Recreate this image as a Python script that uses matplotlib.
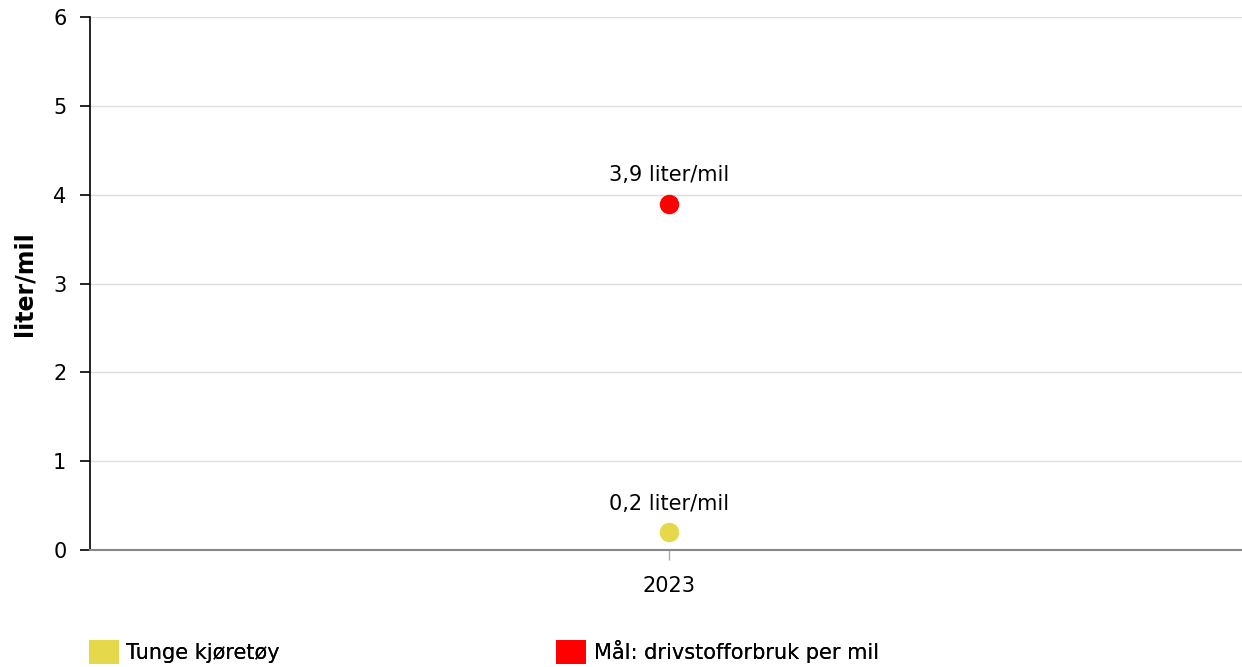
import matplotlib.pyplot as plt
from matplotlib.patches import Patch

# data
years = ["2023"]
tunge = [0.2]
maal = [3.9]
series_names = ["Tunge kjøretøy", "Mål: drivstofforbruk per mil"]
series_colors = ["#e5d84a", "#ff0000"]
y_ticks = [0, 1, 2, 3, 4, 5, 6]

plt.rcParams["font.family"] = ["DejaVu Sans"]
FS = 15

fig = plt.figure(figsize=(12.42, 6.67), dpi=100)
ax = fig.add_axes([90 / 1242, (667 - 550) / 667, 1152 / 1242, 533 / 667])

x = list(range(len(years)))
for vals, col in zip([tunge, maal], series_colors):
    ax.plot(x, vals, "o", color=col, markersize=13, zorder=3, clip_on=False)
    for xi, v in zip(x, vals):
        ax.annotate(
            f"{v:.1f}".replace(".", ",") + " liter/mil",
            (xi, v),
            xytext=(0, 13),
            textcoords="offset points",
            ha="center",
            va="bottom",
            fontsize=FS,
        )

ax.set_xlim(-0.503, 0.497)
ax.set_ylim(0, 6)
ax.set_yticks(y_ticks)
ax.set_xticks(x)
ax.set_xticklabels(years)
ax.yaxis.grid(True, color="#dddddd", linewidth=1)
ax.set_axisbelow(True)

for s in ["top", "right"]:
    ax.spines[s].set_visible(False)
ax.spines["left"].set_color("black")
ax.spines["left"].set_linewidth(1.2)
ax.spines["bottom"].set_color("#888888")
ax.spines["bottom"].set_linewidth(1.5)

ax.tick_params(axis="y", length=7, width=1.2, color="black", labelsize=FS, pad=10)
ax.tick_params(axis="x", length=7, width=1, color="#aaaaaa", labelsize=FS, pad=12)
ax.set_ylabel("liter/mil", fontsize=17, fontweight="bold", labelpad=12)

anchors = [89 / 1242, 556 / 1242]
for name, col, ax_x in zip(series_names, series_colors, anchors):
    leg = fig.legend(
        handles=[Patch(facecolor=col, edgecolor="none", label=name)],
        loc="center left",
        bbox_to_anchor=(ax_x, 15 / 667),
        frameon=False,
        fontsize=FS,
        handlelength=1.45,
        handleheight=1.45,
        handletextpad=0.35,
        borderpad=0,
        borderaxespad=0,
    )
    fig.add_artist(leg)

fig.savefig("out.png", dpi=100)
